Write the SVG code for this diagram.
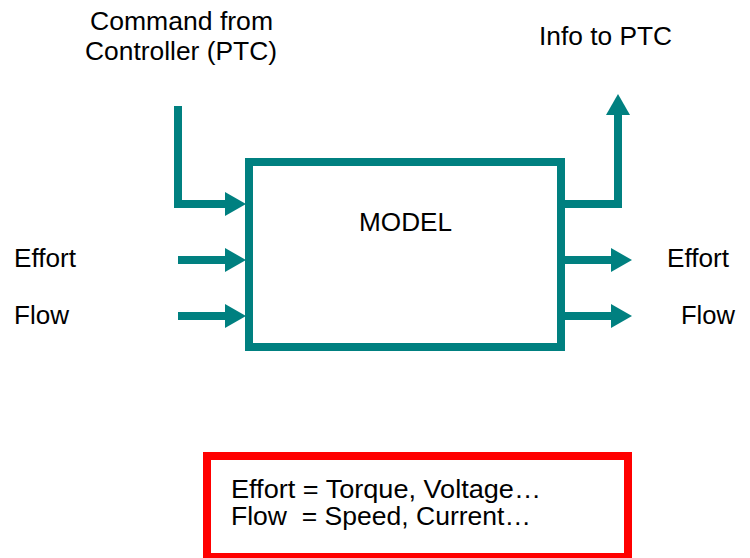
<svg xmlns="http://www.w3.org/2000/svg" width="750" height="558" viewBox="0 0 750 558">
  <style>
    text { font-family: "Liberation Sans", Arial, sans-serif; font-size: 25px; fill: #000; }
    .conn { fill: none; stroke: #008080; stroke-width: 8; stroke-linejoin: miter; stroke-linecap: butt; }
    .box { fill: #fff; stroke: #008080; stroke-width: 8; }
    .note { fill: #fff; stroke: #ff0000; stroke-width: 8; }
  </style>
  <defs>
    <marker id="arrow" markerUnits="userSpaceOnUse" markerWidth="22" markerHeight="24" refX="1" refY="12" orient="auto" overflow="visible">
      <path d="M0,0 L21,12 L0,24 z" fill="#008080"/>
    </marker>
  </defs>
  <rect width="750" height="558" fill="#fff"/>

  <g id="connectors">
    <polyline class="conn" points="178,106 178,204 226,204" marker-end="url(#arrow)"/>
    <line class="conn" x1="178" y1="260" x2="226" y2="260" marker-end="url(#arrow)"/>
    <line class="conn" x1="178" y1="316" x2="226" y2="316" marker-end="url(#arrow)"/>
    <line class="conn" x1="565" y1="260" x2="612" y2="260" marker-end="url(#arrow)"/>
    <line class="conn" x1="565" y1="316" x2="612" y2="316" marker-end="url(#arrow)"/>
    <polyline class="conn" points="565,204 618,204 618,114" marker-end="url(#arrow)"/>
  </g>

  <g id="model">
    <rect class="box" x="249" y="162" width="312" height="185"/>
    <text x="359" y="231" textLength="93" lengthAdjust="spacingAndGlyphs">MODEL</text>
  </g>

  <g id="command-label">
    <text x="90" y="30" textLength="183" lengthAdjust="spacingAndGlyphs">Command from</text>
    <text x="85" y="60" textLength="192" lengthAdjust="spacingAndGlyphs">Controller (PTC)</text>
  </g>

  <g id="info-label">
    <text x="539" y="45" textLength="133" lengthAdjust="spacingAndGlyphs">Info to PTC</text>
  </g>

  <g id="effort-in">
    <text x="14" y="267" textLength="62" lengthAdjust="spacingAndGlyphs">Effort</text>
  </g>
  <g id="flow-in">
    <text x="14" y="324" textLength="55" lengthAdjust="spacingAndGlyphs">Flow</text>
  </g>
  <g id="effort-out">
    <text x="667" y="267" textLength="62" lengthAdjust="spacingAndGlyphs">Effort</text>
  </g>
  <g id="flow-out">
    <text x="681" y="324" textLength="54" lengthAdjust="spacingAndGlyphs">Flow</text>
  </g>

  <g id="legend">
    <rect class="note" x="207" y="456" width="421" height="101"/>
    <text x="231" y="498" textLength="310" lengthAdjust="spacingAndGlyphs">Effort = Torque, Voltage…</text>
    <text x="231" y="525" xml:space="preserve" style="white-space:pre" textLength="300" lengthAdjust="spacingAndGlyphs">Flow  = Speed, Current…</text>
  </g>
</svg>
